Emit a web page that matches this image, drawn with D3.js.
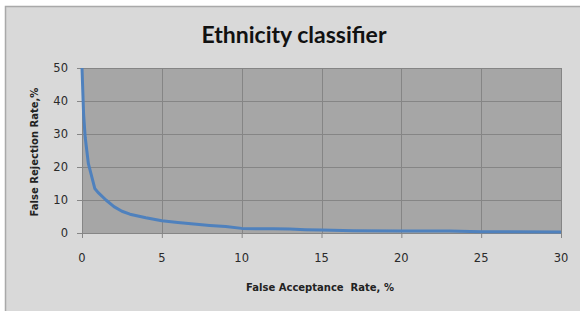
<!DOCTYPE html>
<html>
<head>
<meta charset="utf-8">
<script src="https://cdn.jsdelivr.net/npm/d3@7"></script>
<style>
  html, body { margin: 0; padding: 0; background: #ffffff; }
  svg { display: block; }
</style>
</head>
<body>
<div id="chart"></div>
<script>
// values
const farValues = [0, 0.1, 0.2, 0.4, 0.8, 1, 1.5, 2, 2.5, 3, 4, 5, 6, 7, 8, 9, 10, 11, 12, 13, 14, 15, 17, 20, 23, 25, 30]
const frrValues = [50, 36, 29, 21, 13.5, 12.3, 10, 8, 6.6, 5.7, 4.6, 3.7, 3.2, 2.7, 2.3, 2.0, 1.4, 1.3, 1.3, 1.2, 1.0, 0.9, 0.7, 0.6, 0.6, 0.4, 0.3]
const xTicks = [0, 5, 10, 15, 20, 25, 30]
const yTicks = [0, 10, 20, 30, 40, 50]

const titleText = "Ethnicity classifier"
const xTitle = "False Acceptance  Rate, %"
const yTitle = "False Rejection Rate,%"

var width = 580
var height = 311
var margin = { left: 82, right: 19, top: 68, bottom: 78 }
var innerWidth = width - margin.left - margin.right
var innerHeight = height - margin.top - margin.bottom

var svg = d3.select("#chart").append("svg")
  .attr("width", width)
  .attr("height", height)

// outer frame
svg.append("rect")
  .attr("x", 5).attr("y", 6)
  .attr("width", width - 5).attr("height", height - 6)
  .attr("fill", "#d9d9d9")
svg.append("path")
  .attr("d", "M5.5," + height + " V6.5 H" + width)
  .attr("fill", "none")
  .attr("stroke", "#a9a9a9")
  .attr("stroke-width", 1.5)

var xScale = d3.scaleLinear().domain([0, 30]).range([0, innerWidth])
var yScale = d3.scaleLinear().domain([0, 50]).range([innerHeight, 0])

var g = svg.append("g")
  .attr("transform", "translate(" + margin.left + "," + margin.top + ")")

g.append("rect")
  .attr("width", innerWidth)
  .attr("height", innerHeight)
  .attr("fill", "#a6a6a6")

// grid
g.selectAll(".hgrid")
  .data(yTicks.filter(d => d > 0))
  .enter().append("line")
  .attr("class", "hgrid")
  .attr("x1", 0).attr("x2", innerWidth)
  .attr("y1", d => Math.round(yScale(d)) + 0.5)
  .attr("y2", d => Math.round(yScale(d)) + 0.5)
  .attr("stroke", "#858585")

g.selectAll(".vgrid")
  .data(xTicks.filter(d => d > 0))
  .enter().append("line")
  .attr("class", "vgrid")
  .attr("y1", 0).attr("y2", innerHeight)
  .attr("x1", d => Math.round(xScale(d)) + 0.5)
  .attr("x2", d => Math.round(xScale(d)) + 0.5)
  .attr("stroke", "#858585")

// axes (lines + ticks only, labels drawn below)
var xAxis = d3.axisBottom(xScale).tickValues(xTicks).tickSizeInner(5).tickSizeOuter(0).tickFormat("")
var yAxis = d3.axisLeft(yScale).tickValues(yTicks).tickSizeInner(5).tickSizeOuter(0).tickFormat("")

var xAxisG = g.append("g")
  .attr("transform", "translate(0," + innerHeight + ")")
  .call(xAxis)
var yAxisG = g.append("g").call(yAxis)

;[xAxisG, yAxisG].forEach(a => {
  a.select(".domain").attr("stroke", "#868686")
  a.selectAll(".tick line").attr("stroke", "#868686")
  a.selectAll(".tick text").remove()
})

g.selectAll(".xlab")
  .data(xTicks)
  .enter().append("text")
  .attr("class", "xlab")
  .attr("x", d => xScale(d))
  .attr("y", innerHeight + 29)
  .attr("text-anchor", "middle")
  .attr("font-family", "DejaVu Sans, sans-serif")
  .attr("font-size", 11.5)
  .attr("fill", "#2a2a2a")
  .text(d => d)

g.selectAll(".ylab")
  .data(yTicks)
  .enter().append("text")
  .attr("class", "ylab")
  .attr("x", -14)
  .attr("y", d => yScale(d) + 4)
  .attr("text-anchor", "end")
  .attr("font-family", "DejaVu Sans, sans-serif")
  .attr("font-size", 11.5)
  .attr("fill", "#2a2a2a")
  .text(d => d)

// curve
var line = d3.line()
  .x((d, i) => xScale(farValues[i]))
  .y(d => yScale(d))

g.append("path")
  .datum(frrValues)
  .attr("d", line)
  .attr("fill", "none")
  .attr("stroke", "#4f81bd")
  .attr("stroke-width", 3)
  .attr("stroke-linejoin", "round")

// titles
svg.append("text")
  .attr("x", 294).attr("y", 43)
  .attr("text-anchor", "middle")
  .attr("font-family", "Lato, sans-serif")
  .attr("font-weight", "bold")
  .attr("font-size", 23)
  .attr("fill", "#111")
  .text(titleText)

svg.append("text")
  .attr("x", 320).attr("y", 291)
  .attr("text-anchor", "middle")
  .attr("font-family", "DejaVu Sans, sans-serif")
  .attr("font-weight", "bold")
  .attr("font-size", 10)
  .style("white-space", "pre")
  .attr("fill", "#222")
  .text(xTitle)

svg.append("text")
  .attr("transform", "translate(38,152) rotate(-90)")
  .attr("text-anchor", "middle")
  .attr("font-family", "DejaVu Sans, sans-serif")
  .attr("font-weight", "bold")
  .attr("font-size", 10)
  .attr("fill", "#222")
  .text(yTitle)
</script>
</body>
</html>
